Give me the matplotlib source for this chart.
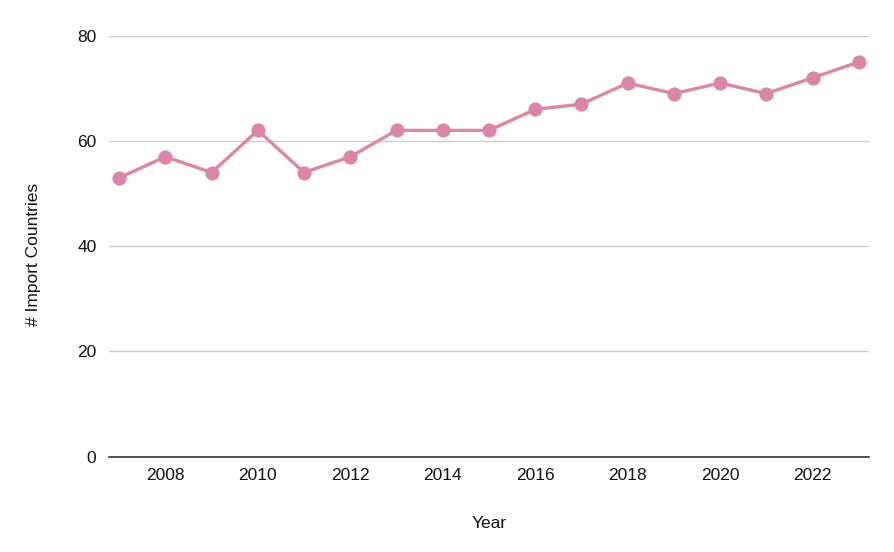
import matplotlib
matplotlib.use('Agg')
import matplotlib.pyplot as plt

# data
years = [2007, 2008, 2009, 2010, 2011, 2012, 2013, 2014, 2015,
         2016, 2017, 2018, 2019, 2020, 2021, 2022, 2023]
countries = [53, 57, 54, 62, 54, 57, 62, 62, 62,
             66, 67, 71, 69, 71, 69, 72, 75]
xticks = [2008, 2010, 2012, 2014, 2016, 2018, 2020, 2022]
yticks = [0, 20, 40, 60, 80]

plt.rcParams['font.family'] = ['Liberation Sans', 'DejaVu Sans']

fig = plt.figure(figsize=(8.94, 5.52), dpi=100)
ax = fig.add_axes([0.1219, 0.1727, 0.8501, 0.7626])

ax.plot(years, countries, color='#da86a8', linewidth=2.4,
        marker='o', markersize=9.2, zorder=3)

ax.set_xlim(2006.78, 2023.22)
ax.set_ylim(0, 80)
ax.set_xticks(xticks)
ax.set_yticks(yticks)
ax.tick_params(length=0, labelsize=12.5, colors='#111111')
ax.tick_params(axis='y', pad=9)
ax.tick_params(axis='x', pad=8)

ax.grid(axis='y', color='#cccccc', linewidth=1)
ax.set_axisbelow(True)
for s in ['top', 'right', 'left']:
    ax.spines[s].set_visible(False)
ax.spines['bottom'].set_color('#333333')
ax.spines['bottom'].set_linewidth(1.2)

ax.set_xlabel('Year', fontsize=12.5, labelpad=24, color='#111111')
ax.set_ylabel('# Import Countries', fontsize=12.5, color='#111111')
ax.yaxis.set_label_coords(-0.089, 0.48)

fig.savefig('out.png', dpi=100)
